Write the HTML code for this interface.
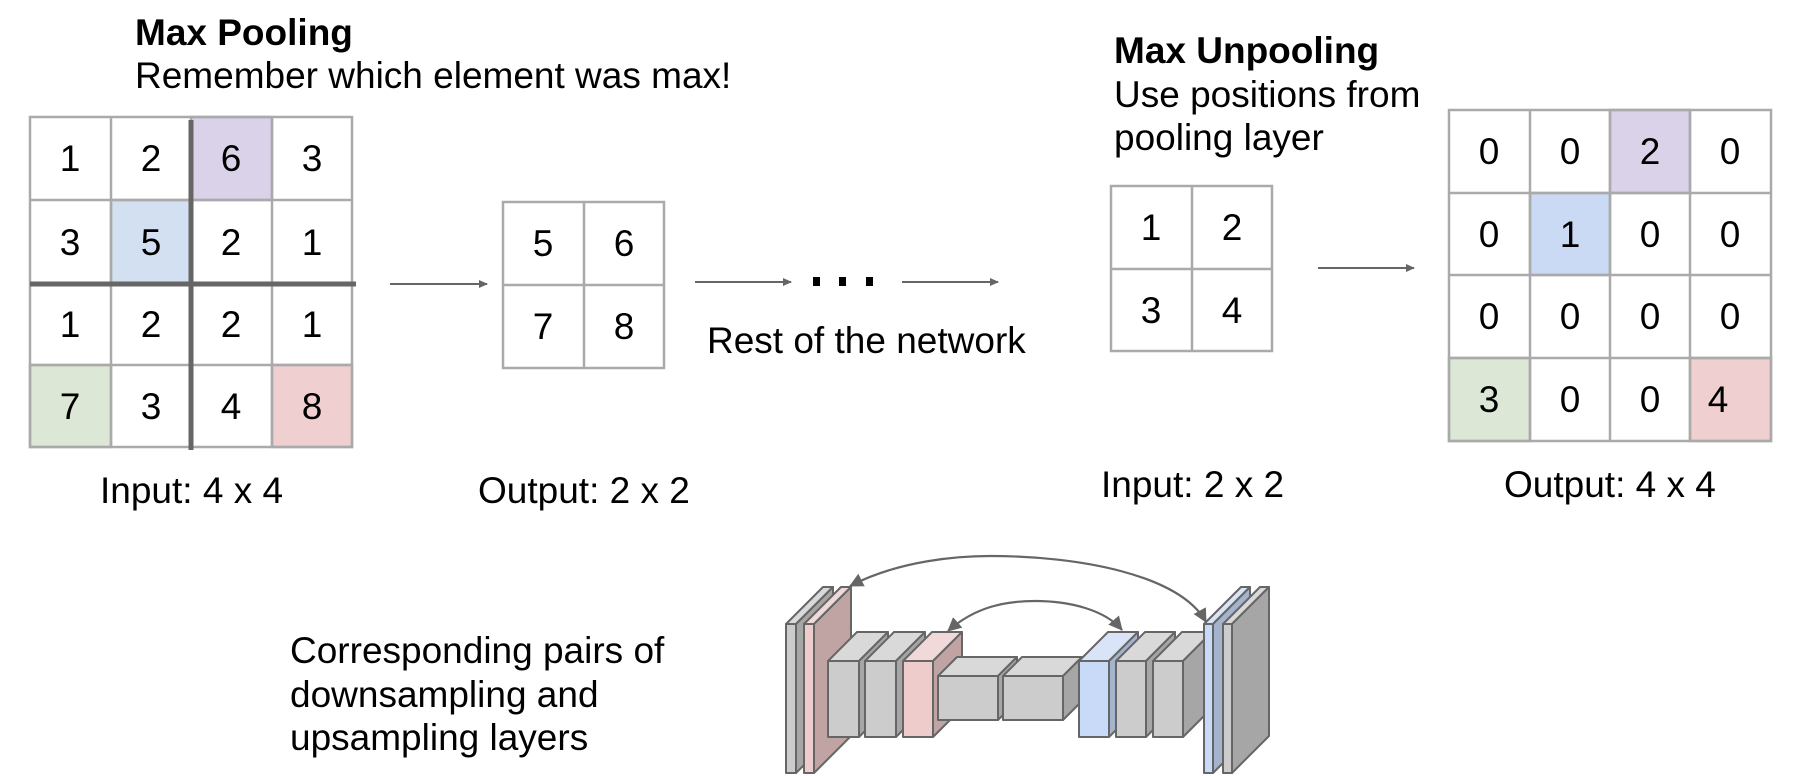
<!DOCTYPE html>
<html><head><meta charset="utf-8"><style>
html,body{margin:0;padding:0;background:#fff;}
svg{display:block;}
text{font-family:"Liberation Sans",Arial,sans-serif;fill:#000;}
</style></head><body>
<svg width="1796" height="776" viewBox="0 0 1796 776" xmlns="http://www.w3.org/2000/svg">
<defs>
<marker id="ah" markerWidth="10" markerHeight="10" refX="8" refY="5" orient="auto" markerUnits="userSpaceOnUse">
<path d="M0,1 L9,5 L0,9 z" fill="#666"/>
</marker>
<marker id="ah2" markerWidth="16" markerHeight="16" refX="13" refY="8" orient="auto-start-reverse" markerUnits="userSpaceOnUse">
<path d="M0,1 L14,8 L0,15 z" fill="#666"/>
</marker>
</defs>

<text x="135" y="45" font-size="37" font-weight="bold">Max Pooling</text>
<text x="135" y="88" font-size="37">Remember which element was max!</text>
<text x="1114" y="63" font-size="37" font-weight="bold">Max Unpooling</text>
<text x="1114" y="107" font-size="37">Use positions from</text>
<text x="1114" y="150" font-size="37">pooling layer</text>

<g stroke="#aaa" stroke-width="2.5">
<rect x="191" y="117" width="81" height="83" fill="#d9d2e9"/>
<rect x="111" y="200" width="80" height="84" fill="#d3e0f1"/>
<rect x="30" y="365" width="81" height="82" fill="#dce8d5"/>
<rect x="272" y="365" width="80" height="82" fill="#efcfcf"/>
<rect x="30" y="117" width="322" height="330" fill="none"/>
<line x1="111" y1="117" x2="111" y2="447"/>
<line x1="272" y1="117" x2="272" y2="447"/>
<line x1="30" y1="200" x2="352" y2="200"/>
<line x1="30" y1="365" x2="352" y2="365"/>
</g>
<g stroke="#666" stroke-width="5">
<line x1="191" y1="120" x2="191" y2="450"/>
<line x1="30" y1="284" x2="356" y2="284"/>
</g>
<g font-size="37" text-anchor="middle">
<text x="70" y="171">1</text><text x="151" y="171">2</text><text x="231" y="171">6</text><text x="312" y="171">3</text>
<text x="70" y="255">3</text><text x="151" y="255">5</text><text x="231" y="255">2</text><text x="312" y="255">1</text>
<text x="70" y="337">1</text><text x="151" y="337">2</text><text x="231" y="337">2</text><text x="312" y="337">1</text>
<text x="70" y="419">7</text><text x="151" y="419">3</text><text x="231" y="419">4</text><text x="312" y="419">8</text>
</g>
<text x="100" y="503" font-size="37">Input: 4 x 4</text>

<line x1="390" y1="284" x2="487" y2="284" stroke="#666" stroke-width="2" marker-end="url(#ah)"/>

<g stroke="#aaa" stroke-width="2.5" fill="none">
<rect x="503" y="202" width="161" height="166"/>
<line x1="584" y1="202" x2="584" y2="368"/>
<line x1="503" y1="285" x2="664" y2="285"/>
</g>
<g font-size="37" text-anchor="middle">
<text x="543" y="256">5</text><text x="624" y="256">6</text>
<text x="543" y="339">7</text><text x="624" y="339">8</text>
</g>
<text x="478" y="503" font-size="37">Output: 2 x 2</text>

<line x1="695" y1="282" x2="791" y2="282" stroke="#666" stroke-width="2" marker-end="url(#ah)"/>
<rect x="813" y="277" width="7" height="9" fill="#000"/>
<rect x="839" y="277" width="7" height="9" fill="#000"/>
<rect x="866" y="277" width="7" height="9" fill="#000"/>
<line x1="902" y1="282" x2="998" y2="282" stroke="#666" stroke-width="2" marker-end="url(#ah)"/>
<text x="707" y="353" font-size="37">Rest of the network</text>

<g stroke="#aaa" stroke-width="2.5" fill="none">
<rect x="1111" y="186" width="161" height="165"/>
<line x1="1192" y1="186" x2="1192" y2="351"/>
<line x1="1111" y1="269" x2="1272" y2="269"/>
</g>
<g font-size="37" text-anchor="middle">
<text x="1151" y="240">1</text><text x="1232" y="240">2</text>
<text x="1151" y="323">3</text><text x="1232" y="323">4</text>
</g>
<text x="1101" y="497" font-size="37">Input: 2 x 2</text>

<line x1="1318" y1="268" x2="1414" y2="268" stroke="#666" stroke-width="2" marker-end="url(#ah)"/>

<g stroke="#aaa" stroke-width="2.5">
<rect x="1610" y="110" width="80" height="83" fill="#d9d2e9"/>
<rect x="1530" y="193" width="80" height="82" fill="#cbdaf4"/>
<rect x="1449" y="358" width="81" height="83" fill="#dce8d5"/>
<rect x="1690" y="358" width="81" height="83" fill="#efcfcf"/>
<rect x="1449" y="110" width="322" height="331" fill="none"/>
<line x1="1530" y1="110" x2="1530" y2="441"/>
<line x1="1610" y1="110" x2="1610" y2="441"/>
<line x1="1690" y1="110" x2="1690" y2="441"/>
<line x1="1449" y1="193" x2="1771" y2="193"/>
<line x1="1449" y1="275" x2="1771" y2="275"/>
<line x1="1449" y1="358" x2="1771" y2="358"/>
</g>
<g font-size="37" text-anchor="middle">
<text x="1489" y="164">0</text><text x="1570" y="164">0</text><text x="1650" y="164">2</text><text x="1730" y="164">0</text>
<text x="1489" y="247">0</text><text x="1570" y="247">1</text><text x="1650" y="247">0</text><text x="1730" y="247">0</text>
<text x="1489" y="329">0</text><text x="1570" y="329">0</text><text x="1650" y="329">0</text><text x="1730" y="329">0</text>
<text x="1489" y="412">3</text><text x="1570" y="412">0</text><text x="1650" y="412">0</text><text x="1718" y="412">4</text>
</g>
<text x="1504" y="497" font-size="37">Output: 4 x 4</text>

<text x="290" y="663" font-size="37">Corresponding pairs of</text>
<text x="290" y="707" font-size="37">downsampling and</text>
<text x="290" y="750" font-size="37">upsampling layers</text>

<g stroke="#666" stroke-width="2" stroke-linejoin="round">
<polygon points="786,624 823,587 833,587 796,624" fill="#d9d9d9"/>
<polygon points="796,624 833,587 833,736 796,773" fill="#a6a6a6"/>
<rect x="786" y="624" width="10" height="149" fill="#cccccc"/>
<polygon points="804,624 841,587 851,587 814,624" fill="#f2d9d9"/>
<polygon points="814,624 851,587 851,736 814,773" fill="#c0a4a4"/>
<rect x="804" y="624" width="10" height="149" fill="#efcccc"/>
<polygon points="828,661 857,632 888,632 859,661" fill="#d9d9d9"/>
<polygon points="859,661 888,632 888,708 859,737" fill="#a6a6a6"/>
<rect x="828" y="661" width="31" height="76" fill="#cccccc"/>
<polygon points="865,661 894,632 925,632 896,661" fill="#d9d9d9"/>
<polygon points="896,661 925,632 925,708 896,737" fill="#a6a6a6"/>
<rect x="865" y="661" width="31" height="76" fill="#cccccc"/>
<polygon points="903,661 932,632 962,632 933,661" fill="#f2d9d9"/>
<polygon points="933,661 962,632 962,708 933,737" fill="#c0a4a4"/>
<rect x="903" y="661" width="30" height="76" fill="#efcccc"/>
<polygon points="938,676 957,657 1017,657 998,676" fill="#d9d9d9"/>
<polygon points="998,676 1017,657 1017,701 998,720" fill="#a6a6a6"/>
<rect x="938" y="676" width="60" height="44" fill="#cccccc"/>
<polygon points="1003,676 1022,657 1082,657 1063,676" fill="#d9d9d9"/>
<polygon points="1063,676 1082,657 1082,701 1063,720" fill="#a6a6a6"/>
<rect x="1003" y="676" width="60" height="44" fill="#cccccc"/>
<polygon points="1079,661 1108,632 1138,632 1109,661" fill="#d9e4f8"/>
<polygon points="1109,661 1138,632 1138,708 1109,737" fill="#a4b4cc"/>
<rect x="1079" y="661" width="30" height="76" fill="#c9daf8"/>
<polygon points="1116,661 1145,632 1175,632 1146,661" fill="#d9d9d9"/>
<polygon points="1146,661 1175,632 1175,708 1146,737" fill="#a6a6a6"/>
<rect x="1116" y="661" width="30" height="76" fill="#cccccc"/>
<polygon points="1153,661 1182,632 1212,632 1183,661" fill="#d9d9d9"/>
<polygon points="1183,661 1212,632 1212,708 1183,737" fill="#a6a6a6"/>
<rect x="1153" y="661" width="30" height="76" fill="#cccccc"/>
<polygon points="1204,624 1241,587 1250,587 1213,624" fill="#d9e4f8"/>
<polygon points="1213,624 1250,587 1250,736 1213,773" fill="#a4b4cc"/>
<rect x="1204" y="624" width="9" height="149" fill="#c9daf8"/>
<polygon points="1223,624 1260,587 1269,587 1232,624" fill="#d9d9d9"/>
<polygon points="1232,624 1269,587 1269,736 1232,773" fill="#a6a6a6"/>
<rect x="1223" y="624" width="9" height="149" fill="#cccccc"/>
</g>
<path d="M850,586 C900,560 960,556 990,556 C1080,556 1180,575 1206,622" fill="none" stroke="#666" stroke-width="2.2" marker-start="url(#ah2)" marker-end="url(#ah2)"/>
<path d="M948,631 C975,607 1005,601 1035,601 C1070,601 1105,610 1122,630" fill="none" stroke="#666" stroke-width="2.2" marker-start="url(#ah2)" marker-end="url(#ah2)"/>
</svg>
</body></html>
